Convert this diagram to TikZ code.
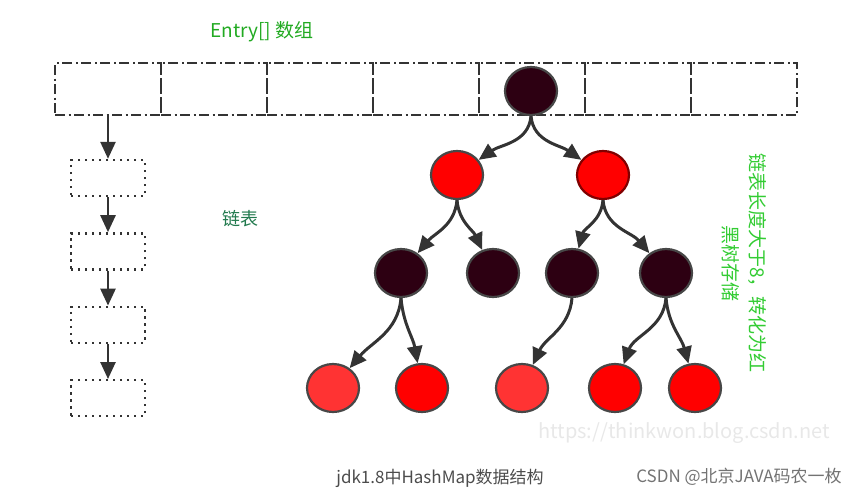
\documentclass[tikz,border=0pt]{standalone}
\usepackage{fontspec}
\setmainfont{Noto Sans CJK SC}
\usepackage{tikz}
\usetikzlibrary{shapes.geometric, arrows.meta, positioning}
\usepackage{xcolor}
\definecolor{edgegray}{HTML}{333333}
\definecolor{darknode}{HTML}{2D0012}
\definecolor{lightred}{HTML}{FF3333}
\definecolor{titlegreen}{HTML}{22AA22}
\definecolor{listgreen}{HTML}{227A4E}
\definecolor{notegreen}{HTML}{33CC33}
\tikzstyle{cell} = [rectangle, minimum width=106pt, minimum height=52pt, draw=edgegray, line width=2.6pt, dash pattern=on 10pt off 3.5pt on 2pt off 3.5pt]
\tikzstyle{listbox} = [rectangle, minimum width=74pt, minimum height=36pt, draw=edgegray, line width=2.4pt, dash pattern=on 2.4pt off 4.6pt]
\tikzstyle{blacknode} = [ellipse, minimum width=52pt, minimum height=48pt, draw=edgegray!90, line width=2.2pt, fill=darknode]
\tikzstyle{rednode} = [ellipse, minimum width=52pt, minimum height=48pt, draw=edgegray!90, line width=2.2pt, fill=red]
\tikzstyle{arrow} = [line width=3pt, draw=edgegray, -{Triangle[width=15pt,length=17pt]}]

\begin{document}
\begin{tikzpicture}[x=1pt, y=-1pt, node distance=35pt]
    \useasboundingbox (0,0) rectangle (865,496);

    % Entry[] array
    \node (title) [text=titlegreen, font=\fontsize{19}{22}\selectfont] at (262,32) {Entry[] 数组};
    \foreach \i in {0,...,6} {
        \node (c\i) [cell] at ({108+106*\i},89) {};
    }

    % linked list
    \node (l1) [listbox] at (108,178) {};
    \node (l2) [listbox, below=of l1] {};
    \node (l3) [listbox, below=of l2] {};
    \node (l4) [listbox, below=of l3] {};
    \draw [arrow, line width=2.6pt] (c0.south) -- (l1.north);
    \foreach \i/\j in {l1/l2, l2/l3, l3/l4} {
        \draw [arrow, line width=2.6pt] (\i.south) -- (\j.north);
    }
    \node (listlabel) [text=listgreen, font=\fontsize{18}{21}\selectfont] at (240,219) {链表};

    % red-black tree
    \node (root) [blacknode] at (531,91) {};
    \node (a) [rednode] at (457,175) {};
    \node (b) [rednode, draw=red!50!black] at (603,175) {};
    \node (c) [blacknode] at (401,273) {};
    \node (d) [blacknode] at (493,273) {};
    \node (e) [blacknode] at (572,273) {};
    \node (f) [blacknode] at (666,273) {};
    \node (g) [rednode, fill=lightred] at (333,388) {};
    \node (h) [rednode] at (422,388) {};
    \node (i) [rednode, fill=lightred] at (522,388) {};
    \node (j) [rednode] at (615,388) {};
    \node (k) [rednode] at (695,388) {};

    \draw [arrow] (root.south) to[out=-95, in=35] (a);
    \draw [arrow] (root.south) to[out=-85, in=145] (b);
    \draw [arrow] (a.south) to[out=-95, in=50] (c);
    \draw [arrow] (a.south) to[out=-85, in=115] (d);
    \draw [arrow] (b.south) to[out=-95, in=75] (e);
    \draw [arrow] (b.south) to[out=-85, in=130] (f);
    \draw [arrow] (c.south) to[out=-95, in=50] (g);
    \draw [arrow] (c.south) to[out=-85, in=100] (h);
    \draw [arrow] (e.south) to[out=-95, in=65] (i);
    \draw [arrow] (f.south) to[out=-95, in=70] (j);
    \draw [arrow] (f.south) to[out=-85, in=105] (k);

    \node (note) [rotate=-90, align=center, text=notegreen, font=\fontsize{19}{27}\selectfont] at (744,263) {链表长度大于8，转化为红\\黑树存储};

    % captions
    \node (watermark) [text=black!9, font=\fontsize{20}{23}\selectfont] at (684,433) {https://thinkwon.blog.csdn.net};
    \node (caption) [text=black!70, font=\fontsize{17}{20}\selectfont] at (440,478) {jdk1.8中HashMap数据结构};
    \node (csdn) [text=black!55, font=\fontsize{17}{20}\selectfont] at (739,477) {CSDN @北京JAVA码农一枚};
\end{tikzpicture}
\end{document}
